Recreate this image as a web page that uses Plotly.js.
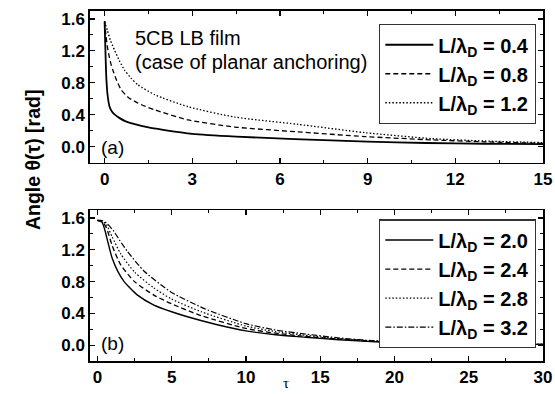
<!DOCTYPE html>
<html>
<head>
<meta charset="utf-8">
<script src="https://cdn.plot.ly/plotly-3.0.1.min.js"></script>
<style>html,body{margin:0;padding:0;background:#fff;}#plot{width:555px;height:394px;}</style>
</head>
<body>
<div id="plot"></div>
<script>
// ---- Panel (a) data ----
const tauA_04 = [0, 0.02, 0.04, 0.06, 0.1, 0.17, 0.25, 0.35, 0.5, 0.7, 1.0, 1.5, 2, 3, 4.5, 6.5, 9, 11, 13, 15];
const thA_04  = [1.57, 1.30, 1.05, 0.85, 0.65, 0.50, 0.44, 0.40, 0.36, 0.32, 0.285, 0.24, 0.21, 0.16, 0.125, 0.094, 0.063, 0.045, 0.036, 0.03];
const tauA_08 = [0, 0.05, 0.1, 0.2, 0.28, 0.4, 0.57, 0.8, 1.14, 1.72, 2.86, 4.46, 6.6, 8.9, 11.2, 13, 15];
const thA_08  = [1.57, 1.38, 1.24, 1.06, 0.96, 0.84, 0.71, 0.62, 0.545, 0.46, 0.335, 0.245, 0.185, 0.126, 0.084, 0.06, 0.04];
const tauA_12 = [0, 0.1, 0.2, 0.34, 0.5, 0.68, 0.9, 1.14, 1.72, 2.86, 4.46, 6.6, 8.9, 11.2, 13, 15];
const thA_12  = [1.57, 1.45, 1.33, 1.21, 1.08, 0.96, 0.86, 0.775, 0.65, 0.50, 0.37, 0.28, 0.175, 0.10, 0.07, 0.05];
const namesA = ['L/λ<sub>D</sub> = 0.4', 'L/λ<sub>D</sub> = 0.8', 'L/λ<sub>D</sub> = 1.2'];

// ---- Panel (b) data ----
const tauB_20 = [0, 0.3, 0.5, 0.7, 1.0, 1.4, 1.8, 2.7, 3.8, 5, 6, 8, 10, 12, 14, 16, 19, 22, 26, 30];
const thB_20  = [1.57, 1.55, 1.45, 1.30, 1.09, 0.92, 0.80, 0.63, 0.505, 0.42, 0.36, 0.26, 0.18, 0.13, 0.10, 0.07, 0.04, 0.025, 0.015, 0.01];
const tauB_24 = [0, 0.3, 0.6, 1.0, 1.57, 2.5, 3.8, 5, 7, 10, 12, 14, 16, 19, 22, 26, 30];
const thB_24  = [1.57, 1.56, 1.48, 1.25, 1.01, 0.80, 0.63, 0.52, 0.37, 0.21, 0.15, 0.11, 0.08, 0.045, 0.028, 0.016, 0.01];
const tauB_28 = [0, 0.3, 0.6, 1.0, 1.57, 2.5, 3.8, 5, 7, 10, 12, 14, 16, 19, 22, 26, 30];
const thB_28  = [1.57, 1.565, 1.52, 1.36, 1.15, 0.92, 0.72, 0.58, 0.42, 0.24, 0.17, 0.125, 0.085, 0.048, 0.03, 0.017, 0.01];
const tauB_32 = [0, 0.3, 0.6, 1.12, 1.5, 2.02, 3.15, 4.94, 7.2, 10, 12, 14, 16.3, 19, 22, 26, 30];
const thB_32  = [1.57, 1.57, 1.54, 1.43, 1.32, 1.18, 0.93, 0.67, 0.46, 0.27, 0.19, 0.14, 0.09, 0.05, 0.03, 0.018, 0.01];
const namesB = ['L/λ<sub>D</sub> = 2.0', 'L/λ<sub>D</sub> = 2.4', 'L/λ<sub>D</sub> = 2.8', 'L/λ<sub>D</sub> = 3.2'];

const xTicksA = [0, 3, 6, 9, 12, 15];
const xTicksB = [0, 5, 10, 15, 20, 25, 30];
const yTicks = [0.0, 0.4, 0.8, 1.2, 1.6];
const yTickText = ['0.0', '0.4', '0.8', '1.2', '1.6'];

const dashes = ['solid', '5px,3px', '1.5px,2px', '6px,2px,1.5px,2px'];

const traces = [
  {x: tauA_04, y: thA_04, name: namesA[0], line: {color: '#000', width: 1.8, dash: dashes[0]}, xaxis: 'x', yaxis: 'y', legend: 'legend', legendgroup: 'a0'},
  {x: tauA_08, y: thA_08, name: namesA[1], line: {color: '#000', width: 1.3, dash: dashes[1]}, xaxis: 'x', yaxis: 'y', legend: 'legend', legendgroup: 'a1'},
  {x: tauA_12, y: thA_12, name: namesA[2], line: {color: '#000', width: 1.3, dash: dashes[2]}, xaxis: 'x', yaxis: 'y', legend: 'legend', legendgroup: 'a2'},
  {x: tauB_20, y: thB_20, name: namesB[0], line: {color: '#000', width: 1.4, dash: dashes[0]}, xaxis: 'x2', yaxis: 'y2', legend: 'legend2', legendgroup: 'b0'},
  {x: tauB_24, y: thB_24, name: namesB[1], line: {color: '#000', width: 1.3, dash: dashes[1]}, xaxis: 'x2', yaxis: 'y2', legend: 'legend2', legendgroup: 'b1'},
  {x: tauB_28, y: thB_28, name: namesB[2], line: {color: '#000', width: 1.2, dash: dashes[2]}, xaxis: 'x2', yaxis: 'y2', legend: 'legend2', legendgroup: 'b2'},
  {x: tauB_32, y: thB_32, name: namesB[3], line: {color: '#000', width: 1.2, dash: dashes[3]}, xaxis: 'x2', yaxis: 'y2', legend: 'legend2', legendgroup: 'b3'}
].map(t => Object.assign({type: 'scatter', mode: 'lines'}, t, {line: Object.assign({shape: 'spline', smoothing: 0.6}, t.line)}));

const tickFont = {family: 'Liberation Sans, Arial, sans-serif', size: 17, color: '#000', weight: 'bold'};
const axisCommon = {
  showline: true, linecolor: '#000', linewidth: 1.6, mirror: 'ticks',
  ticks: 'inside', ticklen: 5, tickwidth: 1.2, tickcolor: '#000',
  showgrid: false, zeroline: false, tickfont: tickFont
};

const legendCommon = {
  xanchor: 'left', yanchor: 'top',
  bgcolor: '#fff', bordercolor: '#333', borderwidth: 1.3,
  font: {family: 'Liberation Sans, Arial, sans-serif', size: 20, color: '#000', weight: 'bold'},
  itemwidth: 48, tracegroupgap: 0
};

const layout = {
  width: 555, height: 394,
  margin: {l: 90, r: 12, t: 11, b: 33},
  paper_bgcolor: '#fff', plot_bgcolor: '#fff',
  showlegend: true,
  xaxis: Object.assign({}, axisCommon, {domain: [0, 1], range: [-0.5, 15], tickvals: xTicksA, anchor: 'y',
    minor: {dtick: 1.5, ticks: 'inside', ticklen: 3, tickwidth: 1, tickcolor: '#000'}}),
  yaxis: Object.assign({}, axisCommon, {domain: [0.567, 1], range: [-0.2, 1.7], tickvals: yTicks, ticktext: yTickText, anchor: 'x',
    minor: {dtick: 0.2, ticks: 'inside', ticklen: 3, tickwidth: 1, tickcolor: '#000'}}),
  xaxis2: Object.assign({}, axisCommon, {domain: [0, 1], range: [-0.5, 30], tickvals: xTicksB, anchor: 'y2',
    minor: {dtick: 2.5, ticks: 'inside', ticklen: 3, tickwidth: 1, tickcolor: '#000'}}),
  yaxis2: Object.assign({}, axisCommon, {domain: [0, 0.431], range: [-0.2, 1.7], tickvals: yTicks, ticktext: yTickText, anchor: 'x2',
    minor: {dtick: 0.2, ticks: 'inside', ticklen: 3, tickwidth: 1, tickcolor: '#000'}}),
  legend: Object.assign({}, legendCommon, {x: 0.638, y: 0.963}),
  legend2: Object.assign({}, legendCommon, {x: 0.638, y: 0.405}),
  annotations: [
    {xref: 'paper', yref: 'paper', x: -0.1545, y: 0.574, text: 'Angle θ(τ) [rad]', textangle: -90, showarrow: false,
     font: {family: 'Liberation Sans, Arial, sans-serif', size: 19.5, color: '#000', weight: 'bold'}},
    {xref: 'paper', yref: 'paper', x: 0.433, y: -0.0914, text: 'τ', showarrow: false, xanchor: 'center', yanchor: 'bottom',
     font: {family: 'Liberation Serif, serif', size: 15, color: '#000'}},
    {xref: 'paper', yref: 'paper', x: 0.095, y: 0.923, text: '5CB LB film', showarrow: false, xanchor: 'left', yanchor: 'middle',
     font: {family: 'Liberation Sans, Arial, sans-serif', size: 20, color: '#000'}},
    {xref: 'paper', yref: 'paper', x: 0.095, y: 0.855, text: '(case of planar anchoring)', showarrow: false, xanchor: 'left', yanchor: 'middle',
     font: {family: 'Liberation Sans, Arial, sans-serif', size: 20, color: '#000'}},
    {xref: 'paper', yref: 'paper', x: 0.02, y: 0.611, text: '(a)', showarrow: false, xanchor: 'left', yanchor: 'middle',
     font: {family: 'Liberation Sans, Arial, sans-serif', size: 19, color: '#000'}},
    {xref: 'paper', yref: 'paper', x: 0.02, y: 0.049, text: '(b)', showarrow: false, xanchor: 'left', yanchor: 'middle',
     font: {family: 'Liberation Sans, Arial, sans-serif', size: 19, color: '#000'}}
  ]
};

Plotly.newPlot('plot', traces, layout, {staticPlot: true, displayModeBar: false});
</script>
</body>
</html>
